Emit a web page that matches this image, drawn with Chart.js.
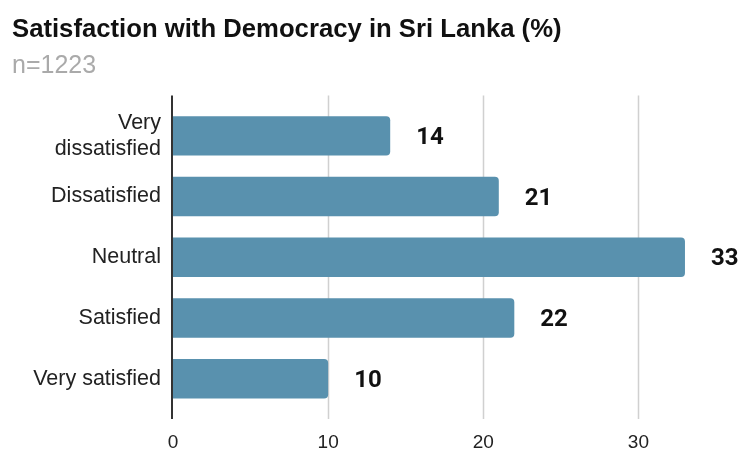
<!DOCTYPE html>
<html>
<head>
<meta charset="utf-8">
<script src="https://cdn.jsdelivr.net/npm/chart.js@4.4.1/dist/chart.umd.min.js"></script>
<style>
  html, body { margin: 0; padding: 0; background: #fff; }
  #wrap { width: 740px; height: 452px; }
</style>
</head>
<body>
<div id="wrap"><canvas id="chart"></canvas></div>
<script>
// risposte e percentuali
const categories = [['Very', 'dissatisfied'], 'Dissatisfied', 'Neutral', 'Satisfied', 'Very satisfied'];
const values = [14, 21, 33, 22, 10];
const xTicks = [0, 10, 20, 30];

const barColor = '#5991ae';
const EXT = 10; // quanto griglia e asse sporgono oltre l'area del grafico

// griglia verticale + asse y disegnati a mano, un po' più lunghi dell'area
const gridPlugin = {
  id: 'gridExt',
  beforeDatasetsDraw(chart) {
    const { ctx, chartArea, scales } = chart;
    ctx.save();
    ctx.strokeStyle = '#d0d0d0';
    ctx.lineWidth = 1.5;
    xTicks.forEach(v => {
      if (v === 0) return;
      const x = Math.round(scales.x.getPixelForValue(v)) + 0.5;
      ctx.beginPath();
      ctx.moveTo(x, chartArea.top - EXT);
      ctx.lineTo(x, chartArea.bottom + EXT);
      ctx.stroke();
    });
    ctx.strokeStyle = '#333';
    ctx.lineWidth = 2;
    const x0 = scales.x.getPixelForValue(0) - 1;
    ctx.beginPath();
    ctx.moveTo(x0, chartArea.top - EXT);
    ctx.lineTo(x0, chartArea.bottom + EXT);
    ctx.stroke();
    ctx.restore();
  }
};

// valori scritti a destra delle barre
const labelPlugin = {
  id: 'barLabels',
  afterDatasetsDraw(chart) {
    const { ctx } = chart;
    ctx.save();
    ctx.font = 'bold 24px Roboto';
    ctx.fillStyle = '#111';
    ctx.textAlign = 'left';
    ctx.textBaseline = 'middle';
    chart.getDatasetMeta(0).data.forEach((bar, i) => {
      ctx.fillText(String(values[i]), bar.x + 26, bar.y + 2);
    });
    ctx.restore();
  }
};

new Chart(document.getElementById('chart'), {
  type: 'bar',
  data: {
    labels: categories,
    datasets: [{
      data: values,
      backgroundColor: barColor,
      borderWidth: 0,
      borderRadius: 4,
      borderSkipped: 'start',
      barPercentage: 0.65,
      categoryPercentage: 1
    }]
  },
  options: {
    indexAxis: 'y',
    responsive: true,
    maintainAspectRatio: false,
    animation: false,
    layout: { padding: { left: 12, right: 24, top: 0, bottom: 0 } },
    plugins: {
      legend: { display: false },
      tooltip: { enabled: false },
      title: {
        display: true,
        text: 'Satisfaction with Democracy in Sri Lanka (%)',
        align: 'start',
        color: '#111',
        font: { family: 'Liberation Sans', size: 25.7, weight: 'bold', lineHeight: 1.2 },
        padding: { top: 14, bottom: 4 }
      },
      subtitle: {
        display: true,
        text: 'n=1223',
        align: 'start',
        color: '#aaa',
        font: { family: 'Liberation Sans', size: 25, lineHeight: 1.2 },
        padding: { top: 2.2, bottom: 24.5 }
      }
    },
    scales: {
      x: {
        type: 'linear',
        min: 0,
        max: 35,
        afterBuildTicks: s => { s.ticks = xTicks.map(v => ({ value: v })); },
        afterFit: s => { s.height = 43; },
        grid: { display: false, drawTicks: false },
        border: { display: false },
        ticks: {
          color: '#222',
          padding: 22,
          font: { family: 'Liberation Sans', size: 19 }
        }
      },
      y: {
        afterFit: s => { s.width = 161; },
        grid: { display: false, drawTicks: false },
        border: { display: false },
        ticks: {
          color: '#222',
          padding: 12,
          font: { family: 'Liberation Sans', size: 21.5, lineHeight: 1.2 }
        }
      }
    }
  },
  plugins: [gridPlugin, labelPlugin]
});
</script>
</body>
</html>
